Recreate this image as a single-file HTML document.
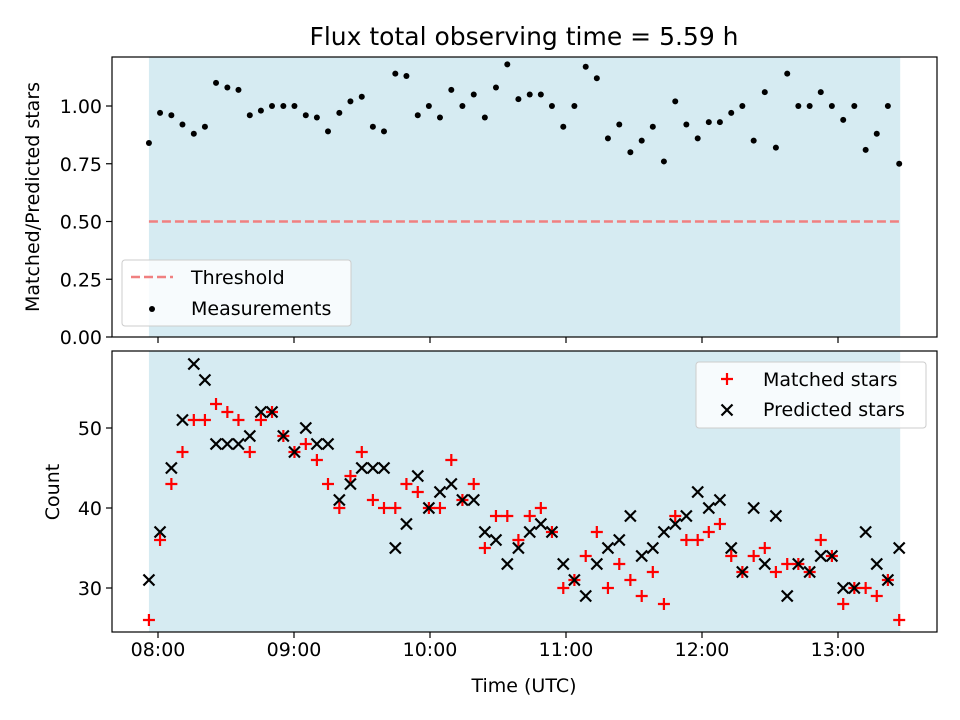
<!DOCTYPE html>
<html><head><meta charset="utf-8"><style>
body{margin:0;background:#fff;}
svg{display:block;font-family:"DejaVu Sans","Liberation Sans",sans-serif;}
</style></head><body>
<svg id="c" width="960" height="720"></svg>
<script>
const times=[476.0,480.9,485.9,490.8,495.8,500.7,505.6,510.6,515.5,520.5,525.4,530.3,535.3,540.2,545.2,550.1,555.0,560.0,564.9,569.9,574.8,579.7,584.7,589.6,594.6,599.5,604.4,609.4,614.3,619.3,624.2,629.1,634.1,639.0,644.0,648.9,653.8,658.8,663.7,668.7,673.6,678.5,683.5,688.4,693.4,698.3,703.2,708.2,713.1,718.1,723.0,727.9,732.9,737.8,742.8,747.7,752.6,757.6,762.5,767.5,772.4,777.3,782.3,787.2,792.2,797.1,802.0,807.0];
const ratio=[0.84,0.97,0.96,0.92,0.88,0.91,1.10,1.08,1.07,0.96,0.98,1.00,1.00,1.00,0.96,0.95,0.89,0.97,1.02,1.04,0.91,0.89,1.14,1.13,0.96,1.00,0.95,1.07,1.00,1.05,0.95,1.08,1.18,1.03,1.05,1.05,1.00,0.91,1.00,1.17,1.12,0.86,0.92,0.80,0.85,0.91,0.76,1.02,0.92,0.86,0.93,0.93,0.97,1.00,0.85,1.06,0.82,1.14,1.00,1.00,1.06,1.00,0.94,1.00,0.81,0.88,1.00,0.75];
const matched=[26,36,43,47,51,51,53,52,51,47,51,52,49,47,48,46,43,40,44,47,41,40,40,43,42,40,40,46,41,43,35,39,39,36,39,40,37,30,31,34,37,30,33,31,29,32,28,39,36,36,37,38,34,32,34,35,32,33,33,32,36,34,28,30,30,29,31,26];
const predicted=[31,37,45,51,58,56,48,48,48,49,52,52,49,47,50,48,48,41,43,45,45,45,35,38,44,40,42,43,41,41,37,36,33,35,37,38,37,33,31,29,33,35,36,39,34,35,37,38,39,42,40,41,35,32,40,33,39,29,33,32,34,34,30,30,37,33,31,35];
const topTicks=[0,0.25,0.5,0.75,1.0];
const botTicks=[30,40,50];
const xTicks=[480,540,600,660,720,780];
const threshold=0.5;

const NS="http://www.w3.org/2000/svg",svg=document.getElementById('c');
function el(t,a,p){const e=document.createElementNS(NS,t);for(const k in a)e.setAttribute(k,a[k]);(p||svg).appendChild(e);return e;}
const L=112,R=937,T1=57,B1=337,T2=351,B2=632;
const FS=19;
const X=m=>158+(m-480)*136/60;
const Y1=v=>337-v*231;
const Y2=v=>428-(v-50)*8;
const x0=X(times[0]),x1=X(times[times.length-1]);

let t=el('text',{x:524,y:45,'text-anchor':'middle','font-size':25});t.textContent='Flux total observing time = 5.59 h';


let s=el('rect',{x:x0,y:T1,width:x1-x0+1,height:B1-T1,fill:'#add8e6','fill-opacity':0.5});

s=el('rect',{x:x0,y:T2,width:x1-x0+1,height:B2-T2,fill:'#add8e6','fill-opacity':0.5});


let th=el('line',{x1:x0,x2:x1,y1:Y1(threshold),y2:Y1(threshold),stroke:'#f08080','stroke-width':2.5,'stroke-dasharray':'9,4'});


times.forEach((m,i)=>{const c=el('circle',{cx:X(m),cy:Y1(ratio[i]),r:3,fill:'#000'});
});

times.forEach((m,i)=>{const x=X(m),y=Y2(matched[i]);
const g=el('path',{d:`M${x-6},${y}H${x+6}M${x},${y-6}V${y+6}`,stroke:'#f00','stroke-width':2.2});
});
times.forEach((m,i)=>{const x=X(m),y=Y2(predicted[i]);
const g=el('path',{d:`M${x-5.5},${y-5.5}L${x+5.5},${y+5.5}M${x-5.5},${y+5.5}L${x+5.5},${y-5.5}`,stroke:'#000','stroke-width':2.2});
});

let f=el('rect',{x:L,y:T1,width:R-L,height:B1-T1,fill:'none',stroke:'#000','stroke-width':1.2});

f=el('rect',{x:L,y:T2,width:R-L,height:B2-T2,fill:'none',stroke:'#000','stroke-width':1.2});


topTicks.forEach(v=>{const y=Y1(v);el('line',{x1:L-6,x2:L,y1:y,y2:y,stroke:'#000','stroke-width':1.2});
const tx=el('text',{x:L-10,y:y+7,'text-anchor':'end','font-size':FS});tx.textContent=v.toFixed(2);
});
botTicks.forEach(v=>{const y=Y2(v);el('line',{x1:L-6,x2:L,y1:y,y2:y,stroke:'#000','stroke-width':1.2});
const tx=el('text',{x:L-10,y:y+7,'text-anchor':'end','font-size':FS});tx.textContent=v;
});
xTicks.forEach(m=>{const x=X(m);el('line',{x1:x,x2:x,y1:B1,y2:B1+6,stroke:'#000','stroke-width':1.2});el('line',{x1:x,x2:x,y1:B2,y2:B2+6,stroke:'#000','stroke-width':1.2});
const tx=el('text',{x:x,y:B2+24,'text-anchor':'middle','font-size':FS});
tx.textContent=String(Math.floor(m/60)).padStart(2,'0')+':'+String(m%60).padStart(2,'0');
});

t=el('text',{x:524,y:692,'text-anchor':'middle','font-size':FS});t.textContent='Time (UTC)';

t=el('text',{x:0,y:0,'text-anchor':'middle','font-size':FS,transform:'translate(39,197) rotate(-90)'});t.textContent='Matched/Predicted stars';

t=el('text',{x:0,y:0,'text-anchor':'middle','font-size':FS,transform:'translate(59,492) rotate(-90)'});t.textContent='Count';


let lg=el('rect',{x:122,y:260,width:229,height:66,rx:3,fill:'#fff','fill-opacity':0.8,stroke:'#ccc'});

el('line',{x1:131,x2:173,y1:277,y2:277,stroke:'#f08080','stroke-width':2.5,'stroke-dasharray':'9,4'});
t=el('text',{x:191,y:284,'font-size':FS});t.textContent='Threshold';

el('circle',{cx:152,cy:309,r:3,fill:'#000'});
t=el('text',{x:191,y:315,'font-size':FS});t.textContent='Measurements';


lg=el('rect',{x:696,y:362,width:230,height:66,rx:3,fill:'#fff','fill-opacity':0.8,stroke:'#ccc'});

el('path',{d:'M721,379H733M727,373V385',stroke:'#f00','stroke-width':2.2});
t=el('text',{x:763,y:386,'font-size':FS});t.textContent='Matched stars';

el('path',{d:'M721.5,404.5L732.5,415.5M721.5,415.5L732.5,404.5',stroke:'#000','stroke-width':2.2});
t=el('text',{x:763,y:416,'font-size':FS});t.textContent='Predicted stars';

</script>
</body></html>
